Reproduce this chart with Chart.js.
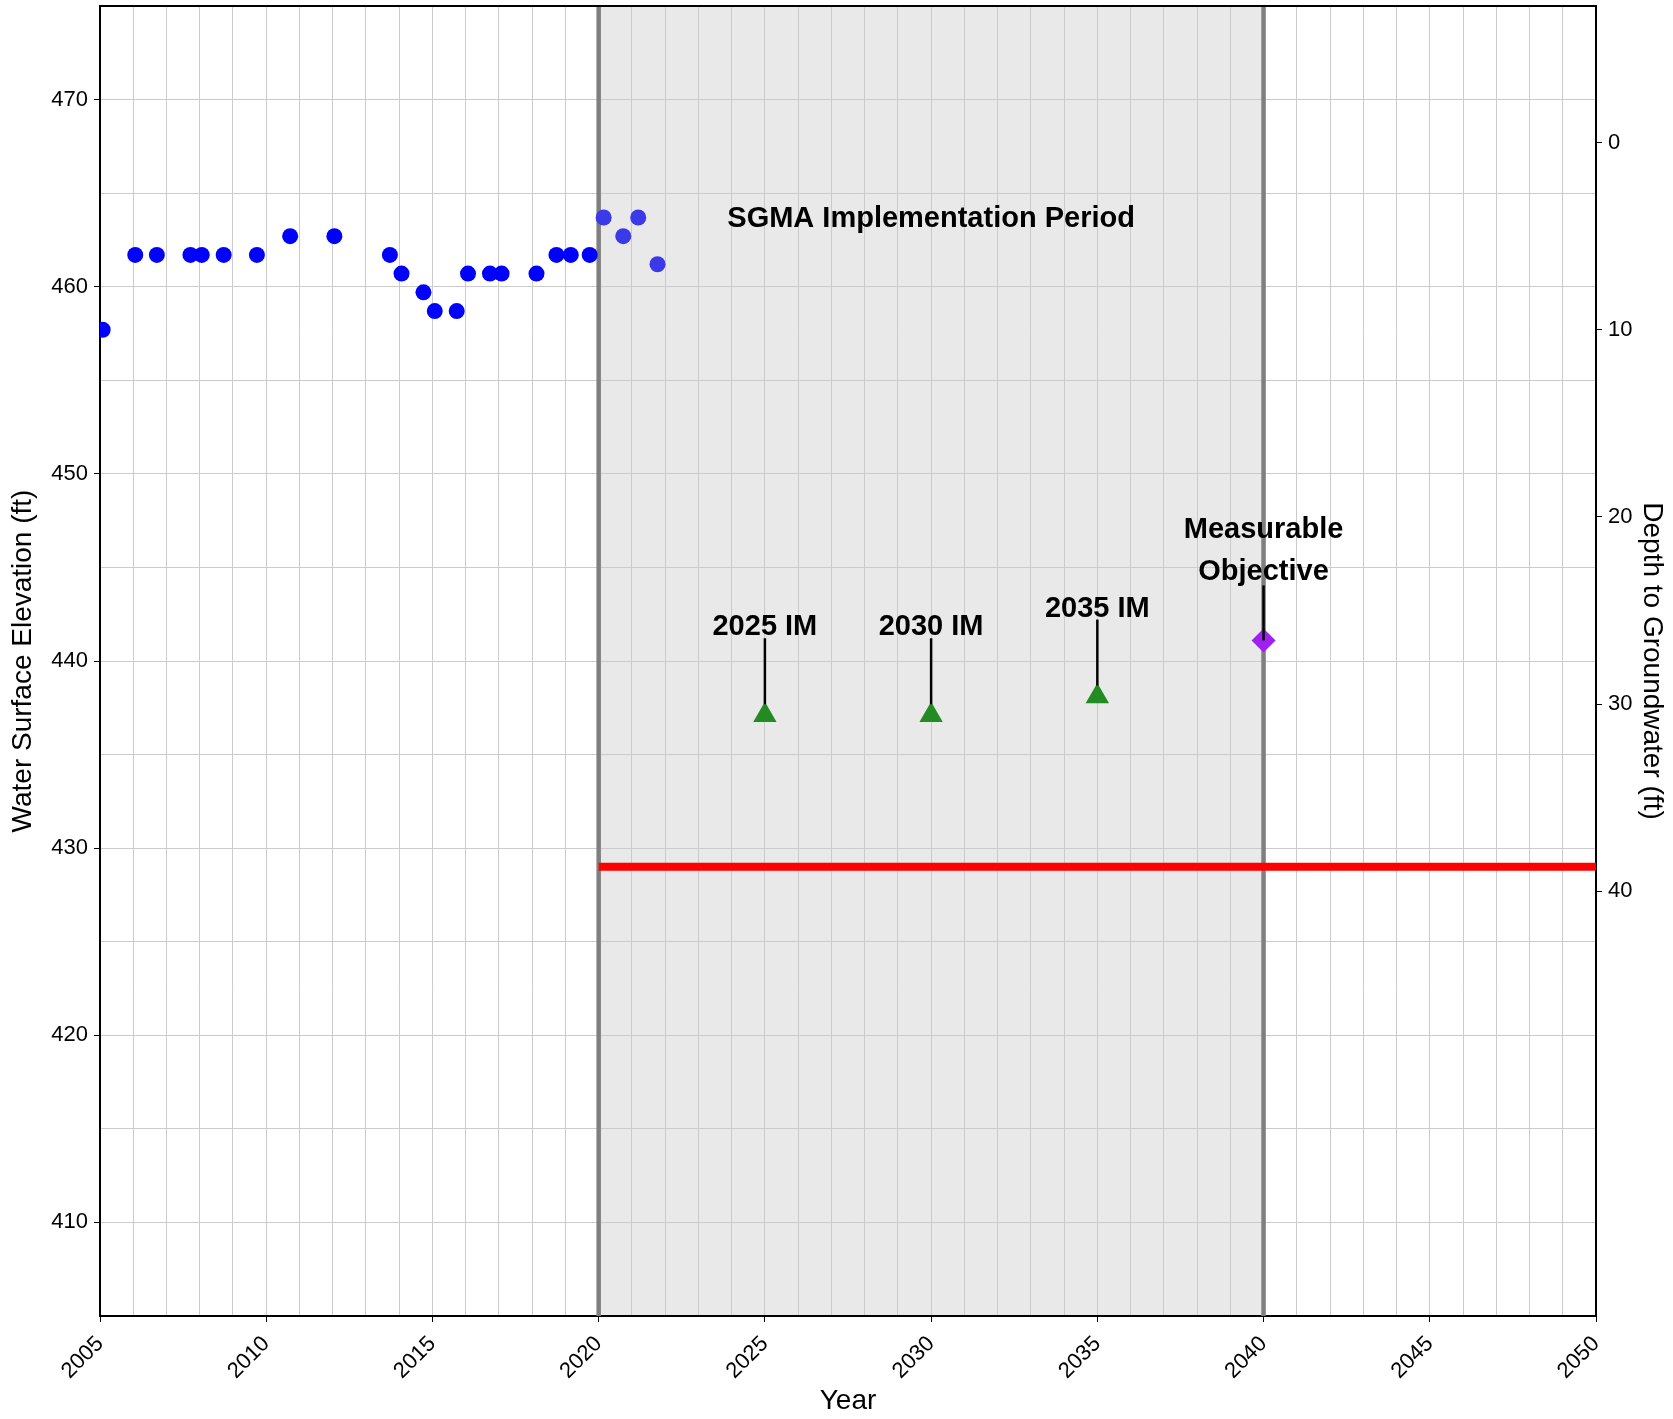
<!DOCTYPE html>
<html>
<head>
<meta charset="utf-8">
<script src="https://cdn.jsdelivr.net/npm/chart.js@4.4.1/dist/chart.umd.min.js"></script>
<style>
  html, body { margin: 0; padding: 0; background: #fff; }
  #wrap { width: 1673px; height: 1419px; }
</style>
</head>
<body>
<div id="wrap"><canvas id="grafico" width="1673" height="1419"></canvas></div>
<script>
// Observaciones (año decimal, elevación del agua en ft)
const obsYears = [2005.08, 2006.06, 2006.71, 2007.72, 2008.06, 2008.72, 2009.72, 2010.72, 2012.05,
  2013.72, 2014.07, 2014.73, 2015.07, 2015.73, 2016.07, 2016.73, 2017.08, 2018.13, 2018.73,
  2019.16, 2019.73, 2020.15, 2020.74, 2021.19, 2021.77];
const obsElev = [457.7, 461.7, 461.7, 461.7, 461.7, 461.7, 461.7, 462.7, 462.7,
  461.7, 460.7, 459.7, 458.7, 458.7, 460.7, 460.7, 460.7, 460.7, 461.7,
  461.7, 461.7, 463.7, 462.7, 463.7, 461.2];

// Objetivos intermedios y objetivo medible
const imYears = [2025, 2030, 2035];
const imValues = [437.1, 437.1, 438.1];
const imLabels = ["2025 IM", "2030 IM", "2035 IM"];
const moYear = 2040;
const moValue = 441.1;
const moLabel = ["Measurable", "Objective"];

// Umbral mínimo (línea roja)
const thresholdYears = [2020, 2050];
const thresholdValue = 429;

// Periodo de implementación SGMA
const sgmaStart = 2020;
const sgmaEnd = 2040;
const sgmaLabel = "SGMA Implementation Period";
const sgmaLabelPos = { x: 2030, y: 463.2 };

// Elevación del terreno para el eje de profundidad
const groundElev = 467.7;
const depthTicks = [0, 10, 20, 30, 40];

const yMin = 405, yMax = 475;
const FONT = "'Liberation Sans', Arial, sans-serif";
Chart.defaults.font.family = FONT;
Chart.defaults.color = "#000";

// Fondo y sombreado del periodo
const fondoPlugin = {
  id: "fondo",
  beforeDraw(chart) {
    const { ctx, chartArea, scales } = chart;
    ctx.save();
    ctx.fillStyle = "#fff";
    ctx.fillRect(0, 0, chart.width, chart.height);
    const x1 = scales.x.getPixelForValue(sgmaStart);
    const x2 = scales.x.getPixelForValue(sgmaEnd);
    ctx.fillStyle = "#e9e9e9";
    ctx.fillRect(x1, chartArea.top, x2 - x1, chartArea.bottom - chartArea.top);
    ctx.restore();
  },
  beforeDatasetsDraw(chart) {
    const { ctx, chartArea, scales } = chart;
    ctx.save();
    ctx.strokeStyle = "#7f7f7f";
    ctx.lineWidth = 4.5;
    [sgmaStart, sgmaEnd].forEach(yr => {
      const px = scales.x.getPixelForValue(yr);
      ctx.beginPath();
      ctx.moveTo(px, chartArea.top);
      ctx.lineTo(px, chartArea.bottom);
      ctx.stroke();
    });
    ctx.restore();
  }
};

// Etiquetas y flechas
const etiquetasPlugin = {
  id: "etiquetas",
  afterDatasetsDraw(chart) {
    const { ctx, chartArea, scales } = chart;
    const sx = scales.x, sy = scales.y;
    ctx.save();
    ctx.fillStyle = "#000";
    ctx.strokeStyle = "#000";
    ctx.lineWidth = 2.5;
    ctx.textAlign = "center";
    ctx.textBaseline = "alphabetic";
    ctx.font = "bold 29px " + FONT;

    imYears.forEach((yr, i) => {
      const px = sx.getPixelForValue(yr);
      const py = sy.getPixelForValue(imValues[i]);
      ctx.beginPath();
      ctx.moveTo(px, py - 77);
      ctx.lineTo(px, py - 11);
      ctx.stroke();
      ctx.fillText(imLabels[i], px, py - 80);
    });

    const mx = sx.getPixelForValue(moYear);
    const my = sy.getPixelForValue(moValue);
    ctx.beginPath();
    ctx.moveTo(mx, my - 55);
    ctx.lineTo(mx, my);
    ctx.stroke();
    ctx.fillText(moLabel[0], mx, my - 102);
    ctx.fillText(moLabel[1], mx, my - 60);

    ctx.fillText(sgmaLabel, sx.getPixelForValue(sgmaLabelPos.x), sy.getPixelForValue(sgmaLabelPos.y));

    // marco superior
    ctx.lineWidth = 2;
    ctx.beginPath();
    ctx.moveTo(chartArea.left, chartArea.top);
    ctx.lineTo(chartArea.right, chartArea.top);
    ctx.stroke();
    ctx.restore();
  }
};

const ctx = document.getElementById("grafico").getContext("2d");
const chart = new Chart(ctx, {
  type: "scatter",
  data: {
    datasets: [
      {
        label: "Observed",
        data: obsYears.map((x, i) => ({ x, y: obsElev[i] })),
        pointRadius: 8,
        pointHoverRadius: 8,
        pointBorderWidth: 0,
        pointBackgroundColor: c => (c.raw && c.raw.x >= sgmaStart ? "#3a3ae8" : "#0000ff"),
        borderColor: "rgba(0,0,0,0)"
      },
      {
        label: "Measurable Objective",
        data: [{ x: moYear, y: moValue }],
        pointStyle: "rectRot",
        pointRadius: 12,
        pointBorderWidth: 0,
        pointBackgroundColor: "#a020f0",
        borderColor: "rgba(0,0,0,0)"
      },
      {
        label: "Interim Milestones",
        data: imYears.map((x, i) => ({ x, y: imValues[i] })),
        pointStyle: "triangle",
        pointRadius: 13.5,
        pointBorderWidth: 0,
        pointBackgroundColor: "#228b22",
        borderColor: "rgba(0,0,0,0)"
      },
      {
        label: "Minimum Threshold",
        type: "line",
        data: thresholdYears.map(x => ({ x, y: thresholdValue })),
        borderColor: "#ff0000",
        borderWidth: 8,
        pointRadius: 0,
        showLine: true,
        fill: false
      }
    ]
  },
  options: {
    responsive: false,
    animation: false,
    events: [],
    layout: { autoPadding: false, padding: { top: 6, left: 0, right: 0, bottom: 0 } },
    plugins: { legend: { display: false }, tooltip: { enabled: false } },
    scales: {
      x: {
        type: "linear",
        min: 2005, max: 2050,
        border: { display: true, color: "#000", width: 2 },
        grid: {
          color: "#cbcbcb", lineWidth: 1, tickLength: 6,
          tickColor: c => (c.tick && c.tick.value % 5 === 0 ? "#000" : "rgba(0,0,0,0)")
        },
        ticks: {
          stepSize: 1, autoSkip: false, minRotation: 45, maxRotation: 45, padding: 0,
          font: { size: 22, lineHeight: 2.36 },
          callback: v => (v % 5 === 0 ? String(v) : "")
        },
        title: { display: true, text: "Year", font: { size: 28 }, padding: { top: 4, bottom: 1 } },
        afterFit: s => { s.height = 103; s.paddingLeft = 0; s.paddingRight = 0; }
      },
      y: {
        type: "linear",
        position: "left",
        min: yMin, max: yMax,
        border: { display: true, color: "#000", width: 2 },
        grid: {
          color: "#cbcbcb", lineWidth: 1, tickLength: 6,
          tickColor: c => (c.tick && c.tick.value % 10 === 0 ? "#000" : "rgba(0,0,0,0)")
        },
        ticks: {
          stepSize: 5, padding: 6, font: { size: 22 },
          callback: v => (v % 10 === 0 ? String(v) : "")
        },
        title: { display: true, text: "Water Surface Elevation (ft)", font: { size: 28 }, padding: { top: 6, bottom: 4 } },
        afterFit: s => { s.width = 100; s.paddingTop = 0; s.paddingBottom = 0; }
      },
      y2: {
        type: "linear",
        position: "right",
        reverse: true,
        min: groundElev - yMax, max: groundElev - yMin,
        border: { display: true, color: "#000", width: 2 },
        grid: { drawOnChartArea: false, tickLength: 6, tickColor: "#000" },
        afterBuildTicks: s => { s.ticks = depthTicks.map(v => ({ value: v })); },
        ticks: { padding: 6, font: { size: 22 }, callback: v => String(v) },
        title: { display: true, text: "Depth to Groundwater (ft)", font: { size: 28 }, padding: { top: 4.5, bottom: 4 } },
        afterFit: s => { s.width = 77; s.paddingTop = 0; s.paddingBottom = 0; }
      }
    }
  },
  plugins: [fondoPlugin, etiquetasPlugin]
});
</script>
</body>
</html>
